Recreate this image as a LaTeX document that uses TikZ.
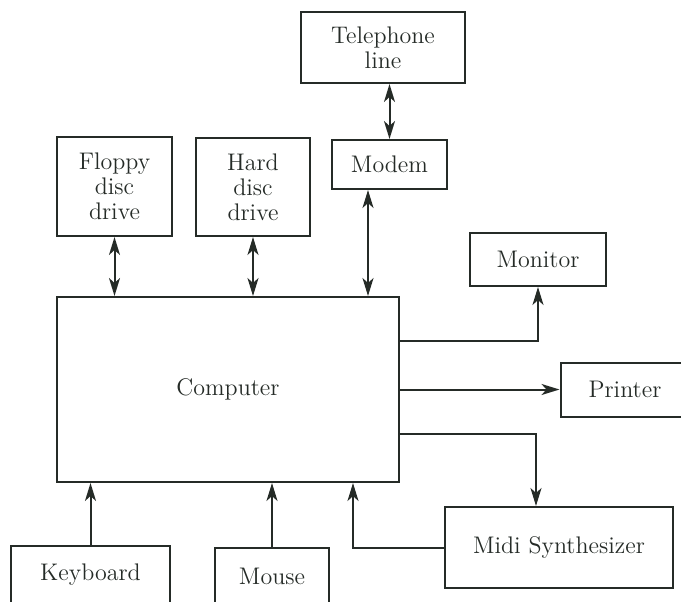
\documentclass[tikz,border=0pt]{standalone}
\usetikzlibrary{arrows.meta}
\definecolor{ink}{HTML}{252B27}
\begin{document}
\begin{tikzpicture}[x=0.5pt, y=-0.5pt, >={Stealth[length=9pt,width=5.5pt,inset=2.5pt]}, line width=1pt, color=ink,
  box/.style={draw, align=center, inner sep=0pt, font=\fontsize{12}{12.5}\selectfont}]
\useasboundingbox (0,0) rectangle (681,601);
\clip (0,0) rectangle (681,601);
\node[box, minimum width=82pt, minimum height=35.5pt] (phone) at (383,47.5) {Telephone\\line};
\node[box, minimum width=57.5pt, minimum height=49.5pt] (floppy) at (114.5,186.5) {Floppy\\disc\\drive};
\node[box, minimum width=57pt, minimum height=49pt] (hard) at (253,187) {Hard\\disc\\drive};
\node[box, minimum width=57.5pt, minimum height=24.5pt] (modem) at (389.5,164.5) {Modem};
\node[box, minimum width=68pt, minimum height=26.5pt] (monitor) at (538,259.5) {Monitor};
\node[box, minimum width=171pt, minimum height=92.5pt] (comp) at (228,389.5) {Computer};
\node[box, minimum width=64.5pt, minimum height=27pt] (printer) at (625,389.5) {Printer};
\node[box, minimum width=114pt, minimum height=40.5pt] (midi) at (559,547.5) {Midi Synthesizer};
\node[box, minimum width=79.5pt, minimum height=29pt] (kbd) at (90.5,575) {Keyboard};
\node[box, minimum width=57pt, minimum height=28pt] (mouse) at (272,576) {Mouse};
\draw[<->] (floppy.south) -- (floppy.south |- comp.north);
\draw[<->] (hard.south) -- (hard.south |- comp.north);
\draw[<->] ([xshift=-10.75pt]modem.south) -- ([xshift=-10.75pt]modem.south |- comp.north);
\draw[<->] (modem.north) -- (modem.north |- phone.south);
\draw[->] ([yshift=24.25pt]comp.east) -| (monitor.south);
\draw[->] (comp.east) -- (printer.west);
\draw[->] ([yshift=-22.25pt]comp.east) -| ([xshift=-11.5pt]midi.north);
\draw[->] (midi.west) -| ([xshift=62.5pt]comp.south);
\draw[->] (kbd.north) -- (kbd.north |- comp.south);
\draw[->] (mouse.north) -- (mouse.north |- comp.south);
\end{tikzpicture}
\end{document}
